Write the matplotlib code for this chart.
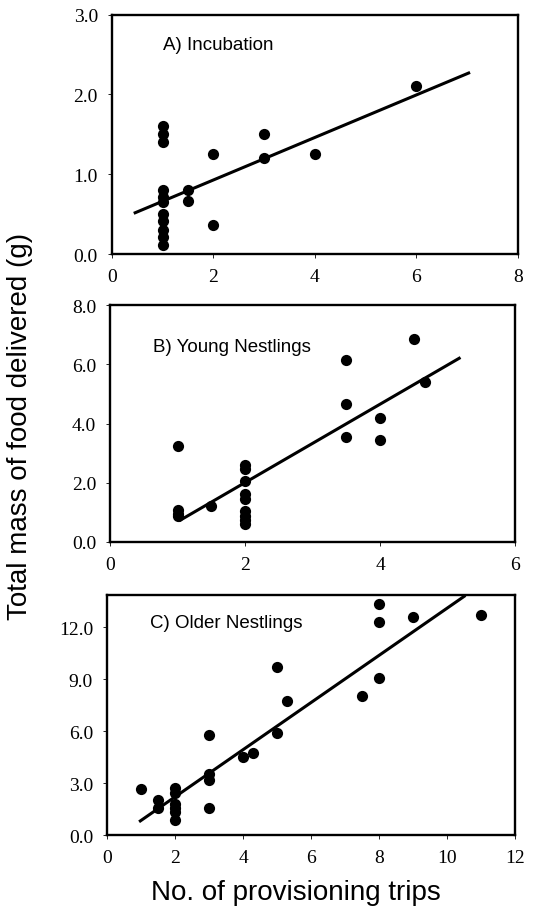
import numpy as np
import matplotlib.pyplot as plt

# A) Incubation
inc_x = [1, 1, 1, 1, 1, 1, 1, 1, 1, 1, 1, 1.5, 1.5, 2, 2, 3, 3, 4, 6]
inc_y = [1.6, 1.5, 1.4, 0.8, 0.72, 0.66, 0.5, 0.42, 0.31, 0.22, 0.12,
         0.81, 0.67, 1.26, 0.37, 1.5, 1.2, 1.26, 2.1]
inc_fit = (0.266, 0.398, 0.46, 7.03)   # slope, intercept, x start, x end

# B) Young Nestlings
yng_x = [1, 1, 1, 1, 1.5, 2, 2, 2, 2, 2, 2, 2, 2, 2,
         3.5, 3.5, 3.5, 4, 4, 4.5, 4.67]
yng_y = [3.23, 1.07, 0.95, 0.88, 1.2, 2.6, 2.47, 2.06, 1.63, 1.43, 1.03, 0.88, 0.72, 0.6,
         6.16, 4.66, 3.54, 4.18, 3.43, 6.86, 5.42]
yng_fit = (1.327, -0.65, 1.04, 5.17)

# C) Older Nestlings
old_x = [1, 1.5, 1.5, 2, 2, 2, 2, 2, 2, 3, 3, 3, 3,
         4, 4.3, 5, 5, 5.3, 7.5, 8, 8, 8, 9, 11]
old_y = [2.7, 2.05, 1.6, 2.75, 2.45, 1.8, 1.6, 1.37, 0.87, 5.8, 3.55, 3.2, 1.6,
         4.5, 4.78, 9.7, 5.88, 7.78, 8.05, 13.35, 12.33, 9.1, 12.62, 12.7]
old_fit = (1.362, -0.505, 0.98, 10.5)

panels = [
    ("A) Incubation", inc_x, inc_y, inc_fit, (0, 8), [0, 2, 4, 6, 8], (0, 3.0), [0, 1, 2, 3]),
    ("B) Young Nestlings", yng_x, yng_y, yng_fit, (0, 6), [0, 2, 4, 6], (0, 8.0), [0, 2, 4, 6, 8]),
    ("C) Older Nestlings", old_x, old_y, old_fit, (0, 12), [0, 2, 4, 6, 8, 10, 12], (0, 13.9), [0, 3, 6, 9, 12]),
]
boxes = [
    [0.209, 0.720, 0.759, 0.263],
    [0.206, 0.405, 0.757, 0.259],
    [0.200, 0.083, 0.763, 0.264],
]
title_pos = [(0.126, 0.875), (0.106, 0.827), (0.105, 0.884)]

fig = plt.figure(figsize=(5.35, 9.12), dpi=100)

for (title, x, y, fit, xl, xt, yl, yt), box, tp in zip(panels, boxes, title_pos):
    ax = fig.add_axes(box)
    ax.scatter(x, y, s=65, color='black', zorder=3, linewidths=0)
    m, b, x0, x1 = fit
    xs = np.array([x0, x1])
    ax.plot(xs, m * xs + b, color='black', lw=2.2, zorder=2)
    ax.set_xlim(*xl)
    ax.set_ylim(*yl)
    ax.set_xticks(xt)
    ax.set_xticklabels([str(v) for v in xt])
    ax.set_yticks(yt)
    ax.set_yticklabels([f"{v:.1f}" for v in yt])
    for lab in ax.get_xticklabels() + ax.get_yticklabels():
        lab.set_fontfamily('Liberation Serif')
        lab.set_fontsize(14)
    ax.tick_params(direction='out', length=3, width=0.6, pad=7)
    for sp in ax.spines.values():
        sp.set_linewidth(1.7)
    ax.text(tp[0], tp[1], title, transform=ax.transAxes, fontsize=13.5,
            family='Liberation Sans', va='center', ha='left')

fig.text(0.037, 0.532, "Total mass of food delivered (g)", rotation=90,
         ha='center', va='center', fontsize=20, family='Liberation Sans')
fig.text(0.553, 0.021, "No. of provisioning trips", ha='center', va='center',
         fontsize=20, family='Liberation Sans')

fig.savefig('out.png', dpi=100)
